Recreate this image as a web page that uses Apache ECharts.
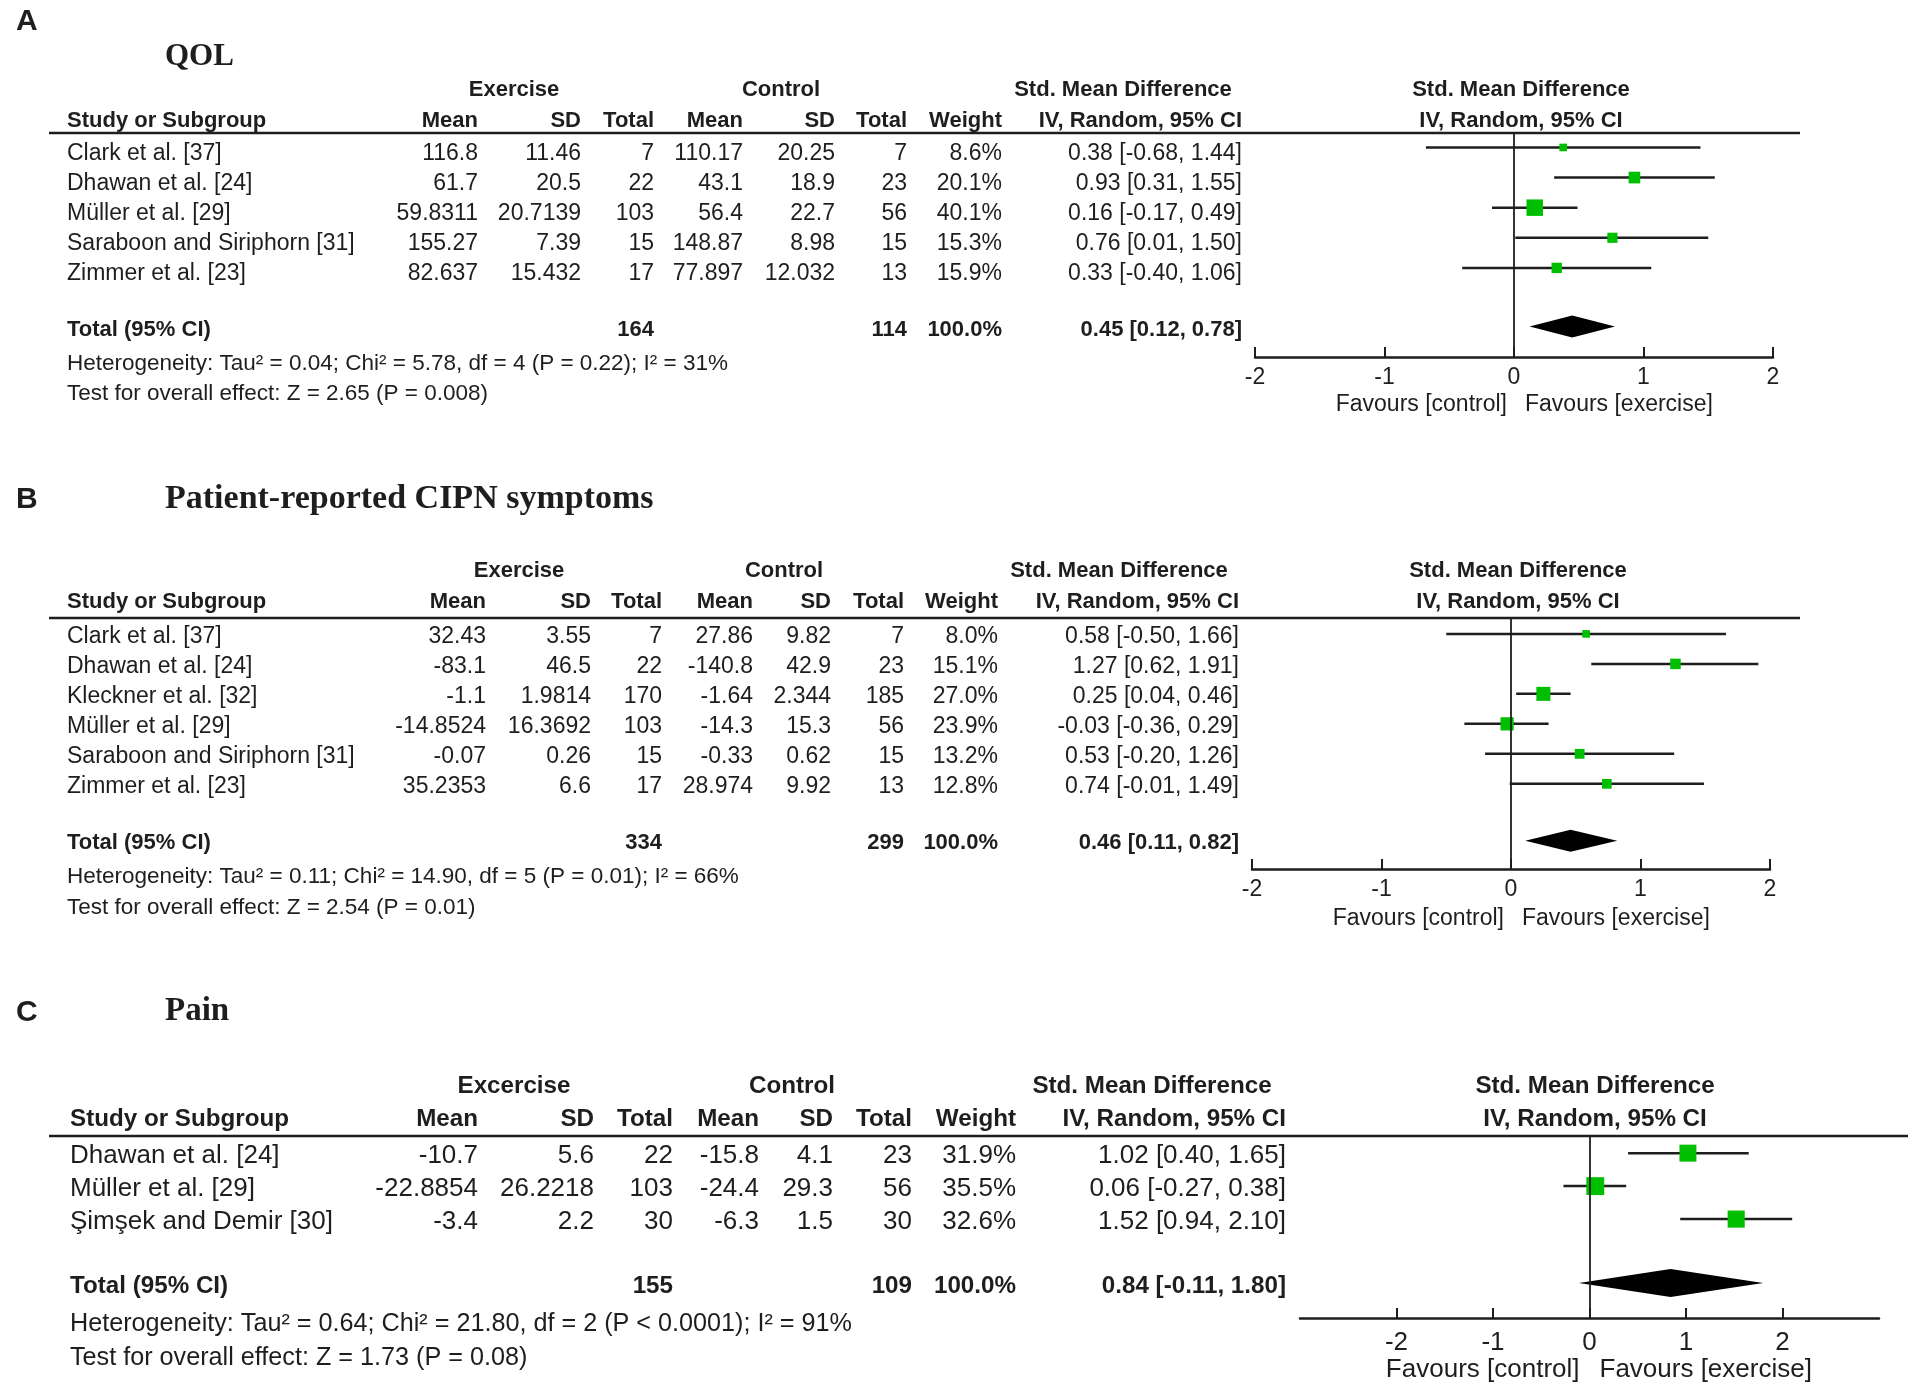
<!DOCTYPE html>
<html>
<head>
<meta charset="utf-8">
<title>Forest plots: QOL, CIPN symptoms, pain</title>
<script src="https://cdn.jsdelivr.net/npm/echarts@6/dist/echarts.min.js"></script>
<style>
html, body { margin: 0; padding: 0; background: #fff; }
#main { width: 1910px; height: 1394px; }
</style>
</head>
<body>
<div id="main"></div>
<script>
// ---- A: QOL ----
var qolStudies = ['Clark et al. [37]', 'Dhawan et al. [24]', 'Müller et al. [29]', 'Saraboon and Siriphorn [31]', 'Zimmer et al. [23]'];
var qolExMean = [116.8, 61.7, 59.8311, 155.27, 82.637];
var qolExSd = [11.46, 20.5, 20.7139, 7.39, 15.432];
var qolExN = [7, 22, 103, 15, 17];
var qolCtMean = [110.17, 43.1, 56.4, 148.87, 77.897];
var qolCtSd = [20.25, 18.9, 22.7, 8.98, 12.032];
var qolCtN = [7, 23, 56, 15, 13];
var qolWeight = [8.6, 20.1, 40.1, 15.3, 15.9];
var qolSmd = [0.38, 0.93, 0.16, 0.76, 0.33];
var qolLow = [-0.68, 0.31, -0.17, 0.01, -0.40];
var qolHigh = [1.44, 1.55, 0.49, 1.50, 1.06];
var qolPooled = [0.45, 0.12, 0.78];
var qolTotals = [164, 114];
var qolHet = 'Heterogeneity: Tau² = 0.04; Chi² = 5.78, df = 4 (P = 0.22); I² = 31%';
var qolTest = 'Test for overall effect: Z = 2.65 (P = 0.008)';

// ---- B: patient-reported CIPN symptoms ----
var cipnStudies = ['Clark et al. [37]', 'Dhawan et al. [24]', 'Kleckner et al. [32]', 'Müller et al. [29]', 'Saraboon and Siriphorn [31]', 'Zimmer et al. [23]'];
var cipnExMean = [32.43, -83.1, -1.1, -14.8524, -0.07, 35.2353];
var cipnExSd = [3.55, 46.5, 1.9814, 16.3692, 0.26, 6.6];
var cipnExN = [7, 22, 170, 103, 15, 17];
var cipnCtMean = [27.86, -140.8, -1.64, -14.3, -0.33, 28.974];
var cipnCtSd = [9.82, 42.9, 2.344, 15.3, 0.62, 9.92];
var cipnCtN = [7, 23, 185, 56, 15, 13];
var cipnWeight = [8.0, 15.1, 27.0, 23.9, 13.2, 12.8];
var cipnSmd = [0.58, 1.27, 0.25, -0.03, 0.53, 0.74];
var cipnLow = [-0.50, 0.62, 0.04, -0.36, -0.20, -0.01];
var cipnHigh = [1.66, 1.91, 0.46, 0.29, 1.26, 1.49];
var cipnPooled = [0.46, 0.11, 0.82];
var cipnTotals = [334, 299];
var cipnHet = 'Heterogeneity: Tau² = 0.11; Chi² = 14.90, df = 5 (P = 0.01); I² = 66%';
var cipnTest = 'Test for overall effect: Z = 2.54 (P = 0.01)';

// ---- C: pain ----
var painStudies = ['Dhawan et al. [24]', 'Müller et al. [29]', 'Şimşek and Demir [30]'];
var painExMean = [-10.7, -22.8854, -3.4];
var painExSd = [5.6, 26.2218, 2.2];
var painExN = [22, 103, 30];
var painCtMean = [-15.8, -24.4, -6.3];
var painCtSd = [4.1, 29.3, 1.5];
var painCtN = [23, 56, 30];
var painWeight = [31.9, 35.5, 32.6];
var painSmd = [1.02, 0.06, 1.52];
var painLow = [0.40, -0.27, 0.94];
var painHigh = [1.65, 0.38, 2.10];
var painPooled = [0.84, -0.11, 1.80];
var painTotals = [155, 109];
var painHet = 'Heterogeneity: Tau² = 0.64; Chi² = 21.80, df = 2 (P < 0.0001); I² = 91%';
var painTest = 'Test for overall effect: Z = 1.73 (P = 0.08)';

var smdTicks = [-2, -1, 0, 1, 2];

var INK = '#1e1e1e';
var GREEN = '#00bf00';
var SANS = '"Liberation Sans", Arial, sans-serif';
var SERIF = '"Liberation Serif", "Times New Roman", serif';

var panels = [{
    letter: 'A', title: 'QOL', group: 'Exercise',
    studies: qolStudies, exMean: qolExMean, exSd: qolExSd, exN: qolExN,
    ctMean: qolCtMean, ctSd: qolCtSd, ctN: qolCtN, weight: qolWeight,
    smd: qolSmd, low: qolLow, high: qolHigh, pooled: qolPooled, totals: qolTotals,
    het: qolHet, test: qolTest,
    fs: 23, boldFs: 22, footFs: 22.5, titleFs: 31,
    letterY: 22, titleY: 57, groupY: 90, headY: 121, lineY: 133, lineX2: 1800,
    cols: { study: 67, mean: 478, sd: 581, n: 654, cmean: 743, csd: 835, cn: 907, w: 1002, ci: 1242 },
    groupX: [514, 781, 1123], plotHeadX: 1521,
    grid: { left: 1255, top: 133, width: 518, height: 224 },
    xMin: -2, xMax: 2, yMin: -0.48, yMax: 6.96, gap: 0.95, k: 2.6, dh: 11, rowDy: 6, totalDy: 3,
    hetY: 364, testY: 394, favY: 405, favL: 7, favR: 11, labelMargin: 9
}, {
    letter: 'B', title: 'Patient-reported CIPN symptoms', group: 'Exercise',
    studies: cipnStudies, exMean: cipnExMean, exSd: cipnExSd, exN: cipnExN,
    ctMean: cipnCtMean, ctSd: cipnCtSd, ctN: cipnCtN, weight: cipnWeight,
    smd: cipnSmd, low: cipnLow, high: cipnHigh, pooled: cipnPooled, totals: cipnTotals,
    het: cipnHet, test: cipnTest,
    fs: 23, boldFs: 22, footFs: 22.5, titleFs: 34,
    letterY: 500, titleY: 499, groupY: 571, headY: 602, lineY: 618, lineX2: 1800,
    cols: { study: 67, mean: 486, sd: 591, n: 662, cmean: 753, csd: 831, cn: 904, w: 998, ci: 1239 },
    groupX: [519, 784, 1119], plotHeadX: 1518,
    grid: { left: 1252, top: 618, width: 518, height: 251 },
    xMin: -2, xMax: 2, yMin: -0.53, yMax: 7.84, gap: 0.9, k: 2.7, dh: 11, rowDy: 3, totalDy: 2,
    hetY: 877, testY: 908, favY: 919, favL: 7, favR: 11, labelMargin: 9
}, {
    letter: 'C', title: 'Pain', group: 'Excercise',
    studies: painStudies, exMean: painExMean, exSd: painExSd, exN: painExN,
    ctMean: painCtMean, ctSd: painCtSd, ctN: painCtN, weight: painWeight,
    smd: painSmd, low: painLow, high: painHigh, pooled: painPooled, totals: painTotals,
    het: painHet, test: painTest,
    fs: 26, boldFs: 24.2, footFs: 25.2, titleFs: 33,
    letterY: 1013, titleY: 1011, groupY: 1086, headY: 1119, lineY: 1136, lineX2: 1908,
    cols: { study: 70, mean: 478, sd: 594, n: 673, cmean: 759, csd: 833, cn: 912, w: 1016, ci: 1286 },
    groupX: [514, 792, 1152], plotHeadX: 1595,
    grid: { left: 1300, top: 1136, width: 579, height: 182 },
    xMin: -3, xMax: 3, yMin: -0.52, yMax: 5.0, gap: 0.94, k: 3.0, dh: 14, rowDy: 3, totalDy: 3,
    hetY: 1324, testY: 1358, favY: 1370, favL: 10, favR: 10, labelMargin: 12
}];

function font(p, bold) {
    return bold ? 'bold ' + p.boldFs + 'px ' + SANS : p.fs + 'px ' + SANS;
}

function txt(text, x, y, align, f) {
    return {
        type: 'text', x: x, y: y, silent: true,
        style: {
            text: text, font: f, fill: INK,
            align: align, textAlign: align,
            verticalAlign: 'middle', textVerticalAlign: 'middle'
        }
    };
}

function ciText(v) {
    return v[0].toFixed(2) + ' [' + v[1].toFixed(2) + ', ' + v[2].toFixed(2) + ']';
}

// static headings and footers for one panel
function panelGraphics(p) {
    var c = p.cols, g = [];
    var zeroX = p.grid.left + p.grid.width * (0 - p.xMin) / (p.xMax - p.xMin);
    var foot = p.footFs + 'px ' + SANS;
    g.push(txt(p.letter, 16, p.letterY, 'left', 'bold 30px ' + SANS));
    g.push(txt(p.title, 165, p.titleY, 'left', 'bold ' + p.titleFs + 'px ' + SERIF));
    g.push(txt(p.group, p.groupX[0], p.groupY, 'center', font(p, true)));
    g.push(txt('Control', p.groupX[1], p.groupY, 'center', font(p, true)));
    g.push(txt('Std. Mean Difference', p.groupX[2], p.groupY, 'center', font(p, true)));
    g.push(txt('Std. Mean Difference', p.plotHeadX, p.groupY, 'center', font(p, true)));
    g.push(txt('Study or Subgroup', c.study, p.headY, 'left', font(p, true)));
    g.push(txt('Mean', c.mean, p.headY, 'right', font(p, true)));
    g.push(txt('SD', c.sd, p.headY, 'right', font(p, true)));
    g.push(txt('Total', c.n, p.headY, 'right', font(p, true)));
    g.push(txt('Mean', c.cmean, p.headY, 'right', font(p, true)));
    g.push(txt('SD', c.csd, p.headY, 'right', font(p, true)));
    g.push(txt('Total', c.cn, p.headY, 'right', font(p, true)));
    g.push(txt('Weight', c.w, p.headY, 'right', font(p, true)));
    g.push(txt('IV, Random, 95% CI', c.ci, p.headY, 'right', font(p, true)));
    g.push(txt('IV, Random, 95% CI', p.plotHeadX, p.headY, 'center', font(p, true)));
    g.push({
        type: 'line', silent: true,
        shape: { x1: 49, y1: p.lineY, x2: p.lineX2, y2: p.lineY },
        style: { stroke: INK, lineWidth: 2.5 }
    });
    g.push(txt(p.het, c.study, p.hetY, 'left', foot));
    g.push(txt(p.test, c.study, p.testY, 'left', foot));
    g.push(txt('Favours [control]', zeroX - p.favL, p.favY, 'right', font(p, false)));
    g.push(txt('Favours [exercise]', zeroX + p.favR, p.favY, 'left', font(p, false)));
    return g;
}

// study rows + total row of the table, placed on the plot's row scale
function tableRenderer(p) {
    return function (params, api) {
        var i = params.dataIndex;
        var isStudy = i < p.studies.length;
        var y = api.coord([0, api.value(1)])[1] + (isStudy ? p.rowDy : p.totalDy);
        var c = p.cols, kids = [];
        if (isStudy) {
            var f = font(p, false);
            kids.push(txt(p.studies[i], c.study, y, 'left', f));
            kids.push(txt(String(p.exMean[i]), c.mean, y, 'right', f));
            kids.push(txt(String(p.exSd[i]), c.sd, y, 'right', f));
            kids.push(txt(String(p.exN[i]), c.n, y, 'right', f));
            kids.push(txt(String(p.ctMean[i]), c.cmean, y, 'right', f));
            kids.push(txt(String(p.ctSd[i]), c.csd, y, 'right', f));
            kids.push(txt(String(p.ctN[i]), c.cn, y, 'right', f));
            kids.push(txt(p.weight[i].toFixed(1) + '%', c.w, y, 'right', f));
            kids.push(txt(ciText([p.smd[i], p.low[i], p.high[i]]), c.ci, y, 'right', f));
        } else {
            var b = font(p, true);
            kids.push(txt('Total (95% CI)', c.study, y, 'left', b));
            kids.push(txt(String(p.totals[0]), c.n, y, 'right', b));
            kids.push(txt(String(p.totals[1]), c.cn, y, 'right', b));
            kids.push(txt('100.0%', c.w, y, 'right', b));
            kids.push(txt(ciText(p.pooled), c.ci, y, 'right', b));
        }
        return { type: 'group', children: kids };
    };
}

function ciRenderer(p) {
    return function (params, api) {
        var row = api.value(1);
        var m = api.coord([api.value(0), row]);
        var lo = api.coord([api.value(2), row]);
        var hi = api.coord([api.value(3), row]);
        var s = p.k * Math.sqrt(api.value(4));
        return {
            type: 'group',
            children: [{
                type: 'line',
                shape: { x1: lo[0], y1: lo[1], x2: hi[0], y2: hi[1] },
                style: { stroke: INK, lineWidth: 2.5 }
            }, {
                type: 'rect',
                shape: { x: m[0] - s / 2, y: m[1] - s / 2, width: s, height: s },
                style: { fill: GREEN }
            }]
        };
    };
}

function diamondRenderer(p) {
    return function (params, api) {
        var row = api.value(1);
        var m = api.coord([api.value(0), row]);
        var lo = api.coord([api.value(2), row]);
        var hi = api.coord([api.value(3), row]);
        return {
            type: 'polygon',
            shape: { points: [[lo[0], m[1]], [m[0], m[1] - p.dh], [hi[0], m[1]], [m[0], m[1] + p.dh]] },
            style: { fill: '#000' }
        };
    };
}

var grids = [], xAxes = [], yAxes = [], series = [], graphics = [];
panels.forEach(function (p, idx) {
    var n = p.studies.length;
    var totalRow = n - 1 + p.gap + 1;
    grids.push({ left: p.grid.left, top: p.grid.top, width: p.grid.width, height: p.grid.height, containLabel: false });
    var xAxis = {
        type: 'value', gridIndex: idx, min: p.xMin, max: p.xMax, interval: 1,
        axisLine: { show: true, onZero: false, lineStyle: { color: INK, width: 2.5 } },
        axisTick: { show: true, inside: true, length: 10, lineStyle: { color: INK, width: 2 } },
        axisLabel: { show: true, margin: p.labelMargin, color: INK, fontSize: p.fs, fontFamily: SANS, showMinLabel: true, showMaxLabel: true },
        splitLine: { show: false }
    };
    if (p.xMin < -2) {
        xAxis.axisTick.customValues = smdTicks;
        xAxis.axisLabel.customValues = smdTicks;
    }
    xAxes.push(xAxis);
    yAxes.push({ type: 'value', gridIndex: idx, inverse: true, min: p.yMin, max: p.yMax, show: false });

    var rows = [], ci = [];
    for (var i = 0; i < n; i++) {
        rows.push([0, i]);
        ci.push([p.smd[i], i, p.low[i], p.high[i], p.weight[i]]);
    }
    rows.push([0, totalRow]);

    series.push({
        type: 'custom', name: p.title + ' table', xAxisIndex: idx, yAxisIndex: idx,
        clip: false, silent: true, renderItem: tableRenderer(p),
        encode: { x: 0, y: 1 }, data: rows
    });
    series.push({
        type: 'custom', name: p.title + ' studies', xAxisIndex: idx, yAxisIndex: idx,
        clip: false, silent: true, z: 3, renderItem: ciRenderer(p),
        encode: { x: [0, 2, 3], y: 1 }, data: ci,
        markLine: {
            silent: true, symbol: 'none', label: { show: false },
            lineStyle: { color: INK, width: 1.8, type: 'solid' },
            data: [{ xAxis: 0 }]
        }
    });
    series.push({
        type: 'custom', name: p.title + ' total', xAxisIndex: idx, yAxisIndex: idx,
        clip: false, silent: true, z: 4, renderItem: diamondRenderer(p),
        encode: { x: [0, 2, 3], y: 1 },
        data: [[p.pooled[0], totalRow, p.pooled[1], p.pooled[2]]]
    });
    graphics = graphics.concat(panelGraphics(p));
});

var chart = echarts.init(document.getElementById('main'), null, { renderer: 'canvas' });
chart.setOption({
    animation: false,
    backgroundColor: '#ffffff',
    grid: grids,
    xAxis: xAxes,
    yAxis: yAxes,
    series: series,
    graphic: { elements: graphics }
});
</script>
</body>
</html>
